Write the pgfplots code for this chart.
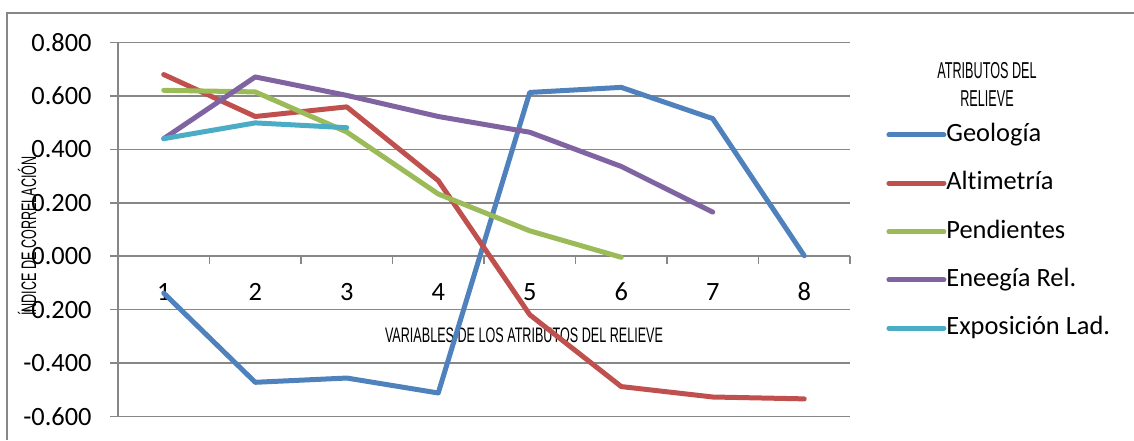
\documentclass[border=0pt]{standalone}
\usepackage{pgfplots}
\pgfplotsset{compat=1.18}
\usepackage{fontspec}
\setmainfont{Carlito}[Ligatures={NoCommon}]
\newfontfamily\condfont[FakeStretch=0.6]{Liberation Sans}
\newfontfamily\condfontb[FakeStretch=0.55]{Liberation Sans}
\definecolor{cBlue}{HTML}{4F81BD}
\definecolor{cRed}{HTML}{C0504D}
\definecolor{cGreen}{HTML}{9BBB59}
\definecolor{cPurple}{HTML}{8064A2}
\definecolor{cCyan}{HTML}{4BACC6}
\definecolor{axgray}{HTML}{878787}
\begin{document}
\begin{tikzpicture}
\useasboundingbox (0,0) rectangle (567pt,220pt);
\draw[color=axgray, line width=0.75pt] (3.5pt,0pt) -- (3.5pt,213.5pt) -- (567pt,213.5pt);
\node[font=\condfont\fontsize{10.5}{12}\selectfont, inner sep=0pt] at (262pt,52.5pt) {VARIABLES DE LOS ATRIBUTOS DEL RELIEVE};
\node[rotate=90, font=\condfont\fontsize{10.5}{12}\selectfont, inner sep=0pt] at (13.5pt,102pt) {ÍNDICE DE CORRELACIÓN};
\node[align=center, font=\condfontb\fontsize{11.5}{14}\selectfont, inner sep=0pt] at (493.5pt,178pt) {ATRIBUTOS DEL\\RELIEVE};
\begin{axis}[
  at={(59pt,11.75pt)}, anchor=south west,
  scale only axis, width=366pt, height=187pt,
  xmin=0.5, xmax=8.5, ymin=-0.6, ymax=0.8,
  axis y line=left, axis x line=middle,
  axis line style={-, draw=axgray, line width=0.75pt},
  tick align=outside,
  xtick={1,2,3,4,5,6,7,8},
  minor xtick={0.5,1.5,2.5,3.5,4.5,5.5,6.5,7.5,8.5},
  ytick={-0.6,-0.4,-0.2,0,0.2,0.4,0.6,0.8},
  every major x tick/.append style={draw=none},
  every minor x tick/.append style={draw=axgray, line width=0.75pt},
  every major y tick/.append style={draw=axgray, line width=0.75pt},
  major tick length=4pt, minor tick length=4pt,
  ymajorgrids, major grid style={draw=axgray, line width=0.75pt},
  /pgf/number format/assume math mode=true,
  yticklabel style={/pgf/number format/fixed, /pgf/number format/fixed zerofill, /pgf/number format/precision=3, inner sep=0pt, anchor=east, xshift=-9pt},
  xticklabel style={inner sep=0pt, anchor=center, yshift=-13.75pt},
  tick label style={font=\fontsize{13.2}{15}\selectfont},
  legend style={at={(axis description cs:1.041,0.798)}, anchor=north west, draw=none, fill=none,
    font=\fontsize{13.2}{15}\selectfont,
    nodes={inner sep=0pt, text height=9.5pt, text depth=3pt, anchor=west},
    row sep=11.65pt, column sep=0pt},
  legend cell align=left,
  legend image code/.code={\draw[#1, line width=2.5pt, line cap=round] (0pt,0pt) -- (27.5pt,0pt);},
]
\addplot[cBlue, line width=2.5pt, line join=round, line cap=round] coordinates {
 (1,-0.138) (2,-0.472) (3,-0.456) (4,-0.512) (5,0.613) (6,0.632) (7,0.515) (8,0.002)};
\addlegendentry{Geología}
\addplot[cRed, line width=2.5pt, line join=round, line cap=round] coordinates {
 (1,0.680) (2,0.523) (3,0.559) (4,0.283) (5,-0.219) (6,-0.488) (7,-0.527) (8,-0.534)};
\addlegendentry{Altimetría}
\addplot[cGreen, line width=2.5pt, line join=round, line cap=round] coordinates {
 (1,0.621) (2,0.615) (3,0.465) (4,0.233) (5,0.095) (6,-0.004)};
\addlegendentry{Pendientes}
\addplot[cPurple, line width=2.5pt, line join=round, line cap=round] coordinates {
 (1,0.440) (2,0.671) (3,0.602) (4,0.523) (5,0.464) (6,0.336) (7,0.165)};
\addlegendentry{Eneegía Rel.}
\addplot[cCyan, line width=2.5pt, line join=round, line cap=round] coordinates {
 (1,0.440) (2,0.499) (3,0.481)};
\addlegendentry{Exposición Lad.}
\end{axis}
\end{tikzpicture}
\end{document}
